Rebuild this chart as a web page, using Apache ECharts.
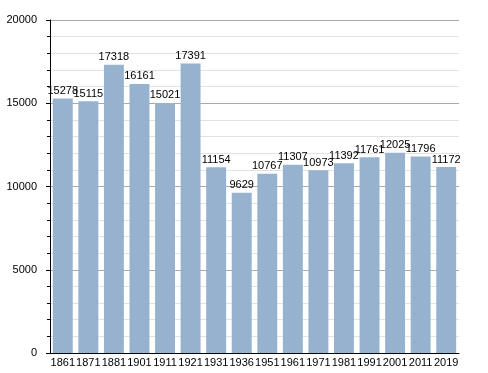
<!DOCTYPE html>
<html><head><meta charset="utf-8">
<script src="https://cdn.jsdelivr.net/npm/echarts@6/dist/echarts.min.js"></script>
<style>html,body{margin:0;padding:0;background:#fff}#c{width:488px;height:373px}</style>
</head><body><div id="c"></div>
<script>
const years = ['1861','1871','1881','1901','1911','1921','1931','1936','1951','1961','1971','1981','1991','2001','2011','2019'];
const population = [15278,15115,17318,16161,15021,17391,11154,9629,10767,11307,10973,11392,11761,12025,11796,11172];
const yTicks = [0,5000,10000,15000,20000];

const chart = echarts.init(document.getElementById('c'), null, {renderer:'canvas'});
chart.setOption({
  animation:false,
  textStyle:{fontFamily:'Liberation Sans, Arial, sans-serif'},
  grid:{left:50,right:29,top:20,bottom:20,containLabel:false},
  xAxis:{type:'category',data:years,
    axisLine:{show:true,lineStyle:{color:'#000',width:1}},
    axisTick:{show:false},
    axisLabel:{color:'#000',fontSize:11,margin:4,interval:0}},
  yAxis:{type:'value',min:yTicks[0],max:yTicks[yTicks.length-1],interval:5000,
    axisLine:{show:true,lineStyle:{color:'#000',width:1}},
    axisTick:{show:true,length:4,lineStyle:{color:'#000'}},
    minorTick:{show:true,splitNumber:5,length:3,lineStyle:{color:'#000'}},
    splitLine:{show:true,lineStyle:{color:'#aaa',width:1}},
    minorSplitLine:{show:true,lineStyle:{color:'#e2e2e2',width:1}},
    axisLabel:{color:'#000',fontSize:11,margin:13,formatter:v=>String(v)}},
  series:[{type:'bar',data:population,barCategoryGap:'22%',
    itemStyle:{color:'#97b2cf'},
    label:{show:true,position:'top',color:'#000',fontSize:11,distance:2}}]
});
</script></body></html>
